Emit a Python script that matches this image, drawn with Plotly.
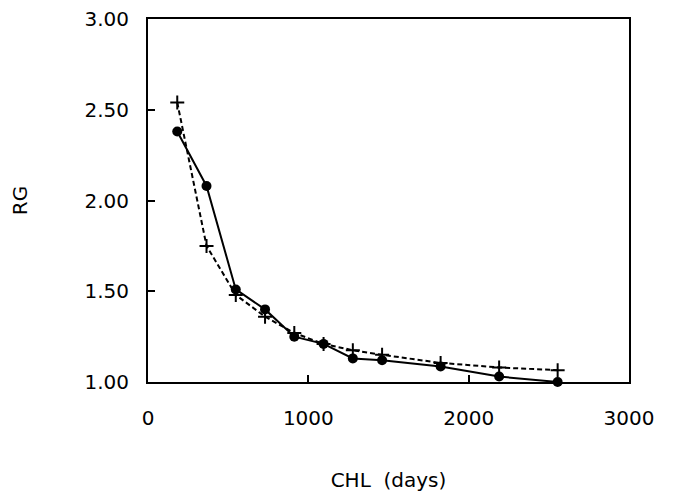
import plotly.graph_objects as go

days = [182.5, 365, 547.5, 730, 912.5, 1095, 1277.5, 1460, 1825, 2190, 2555]
rg_solid = [2.38, 2.08, 1.51, 1.40, 1.25, 1.21, 1.13, 1.12, 1.085, 1.03, 1.00]
rg_dashed = [2.54, 1.75, 1.48, 1.36, 1.27, 1.21, 1.175, 1.15, 1.105, 1.08, 1.065]
x_ticks = [0, 1000, 2000, 3000]
y_ticks = [1.0, 1.5, 2.0, 2.5, 3.0]
y_tick_labels = ["1.00", "1.50", "2.00", "2.50", "3.00"]

font_family = "DejaVu Sans"

fig = go.Figure()
fig.add_trace(go.Scatter(
    x=days, y=rg_dashed, mode="lines+markers",
    line=dict(color="black", width=2, dash="5px,3px"),
    marker=dict(symbol="cross-thin", size=10, line=dict(color="black", width=2)),
    showlegend=False, cliponaxis=False))
fig.add_trace(go.Scatter(
    x=days, y=rg_solid, mode="lines+markers",
    line=dict(color="black", width=2),
    marker=dict(symbol="circle", size=10, color="black"),
    showlegend=False, cliponaxis=False))

fig.update_layout(
    width=671, height=487,
    margin=dict(l=140, r=50, t=11, b=113),
    paper_bgcolor="white", plot_bgcolor="white",
    font=dict(family=font_family, color="black", size=18),
)
fig.update_xaxes(
    range=[0, 3000], tickvals=x_ticks, ticks="inside", ticklen=7, tickwidth=1.5, tickcolor="black",
    showline=True, linecolor="black", linewidth=2, mirror=True, showgrid=False, zeroline=False,
    tickfont=dict(size=20, family=font_family), ticklabelstandoff=17, automargin=False,
    ticklabeloverflow="allow",
    title=dict(text="CHL  (days)", font=dict(size=20, family=font_family), standoff=44),
)
fig.update_yaxes(
    range=[1.0, 3.0], tickvals=y_ticks, ticktext=y_tick_labels, ticks="inside", ticklen=7, tickwidth=1.5,
    tickcolor="black", showline=True, linecolor="black", linewidth=2, mirror=True, showgrid=False,
    zeroline=False, tickfont=dict(size=20, family=font_family), ticklabelstandoff=13, automargin=False,
    ticklabeloverflow="allow",
    title=dict(text="RG", font=dict(size=20, family=font_family), standoff=54),
)
fig.write_html("out.html")
